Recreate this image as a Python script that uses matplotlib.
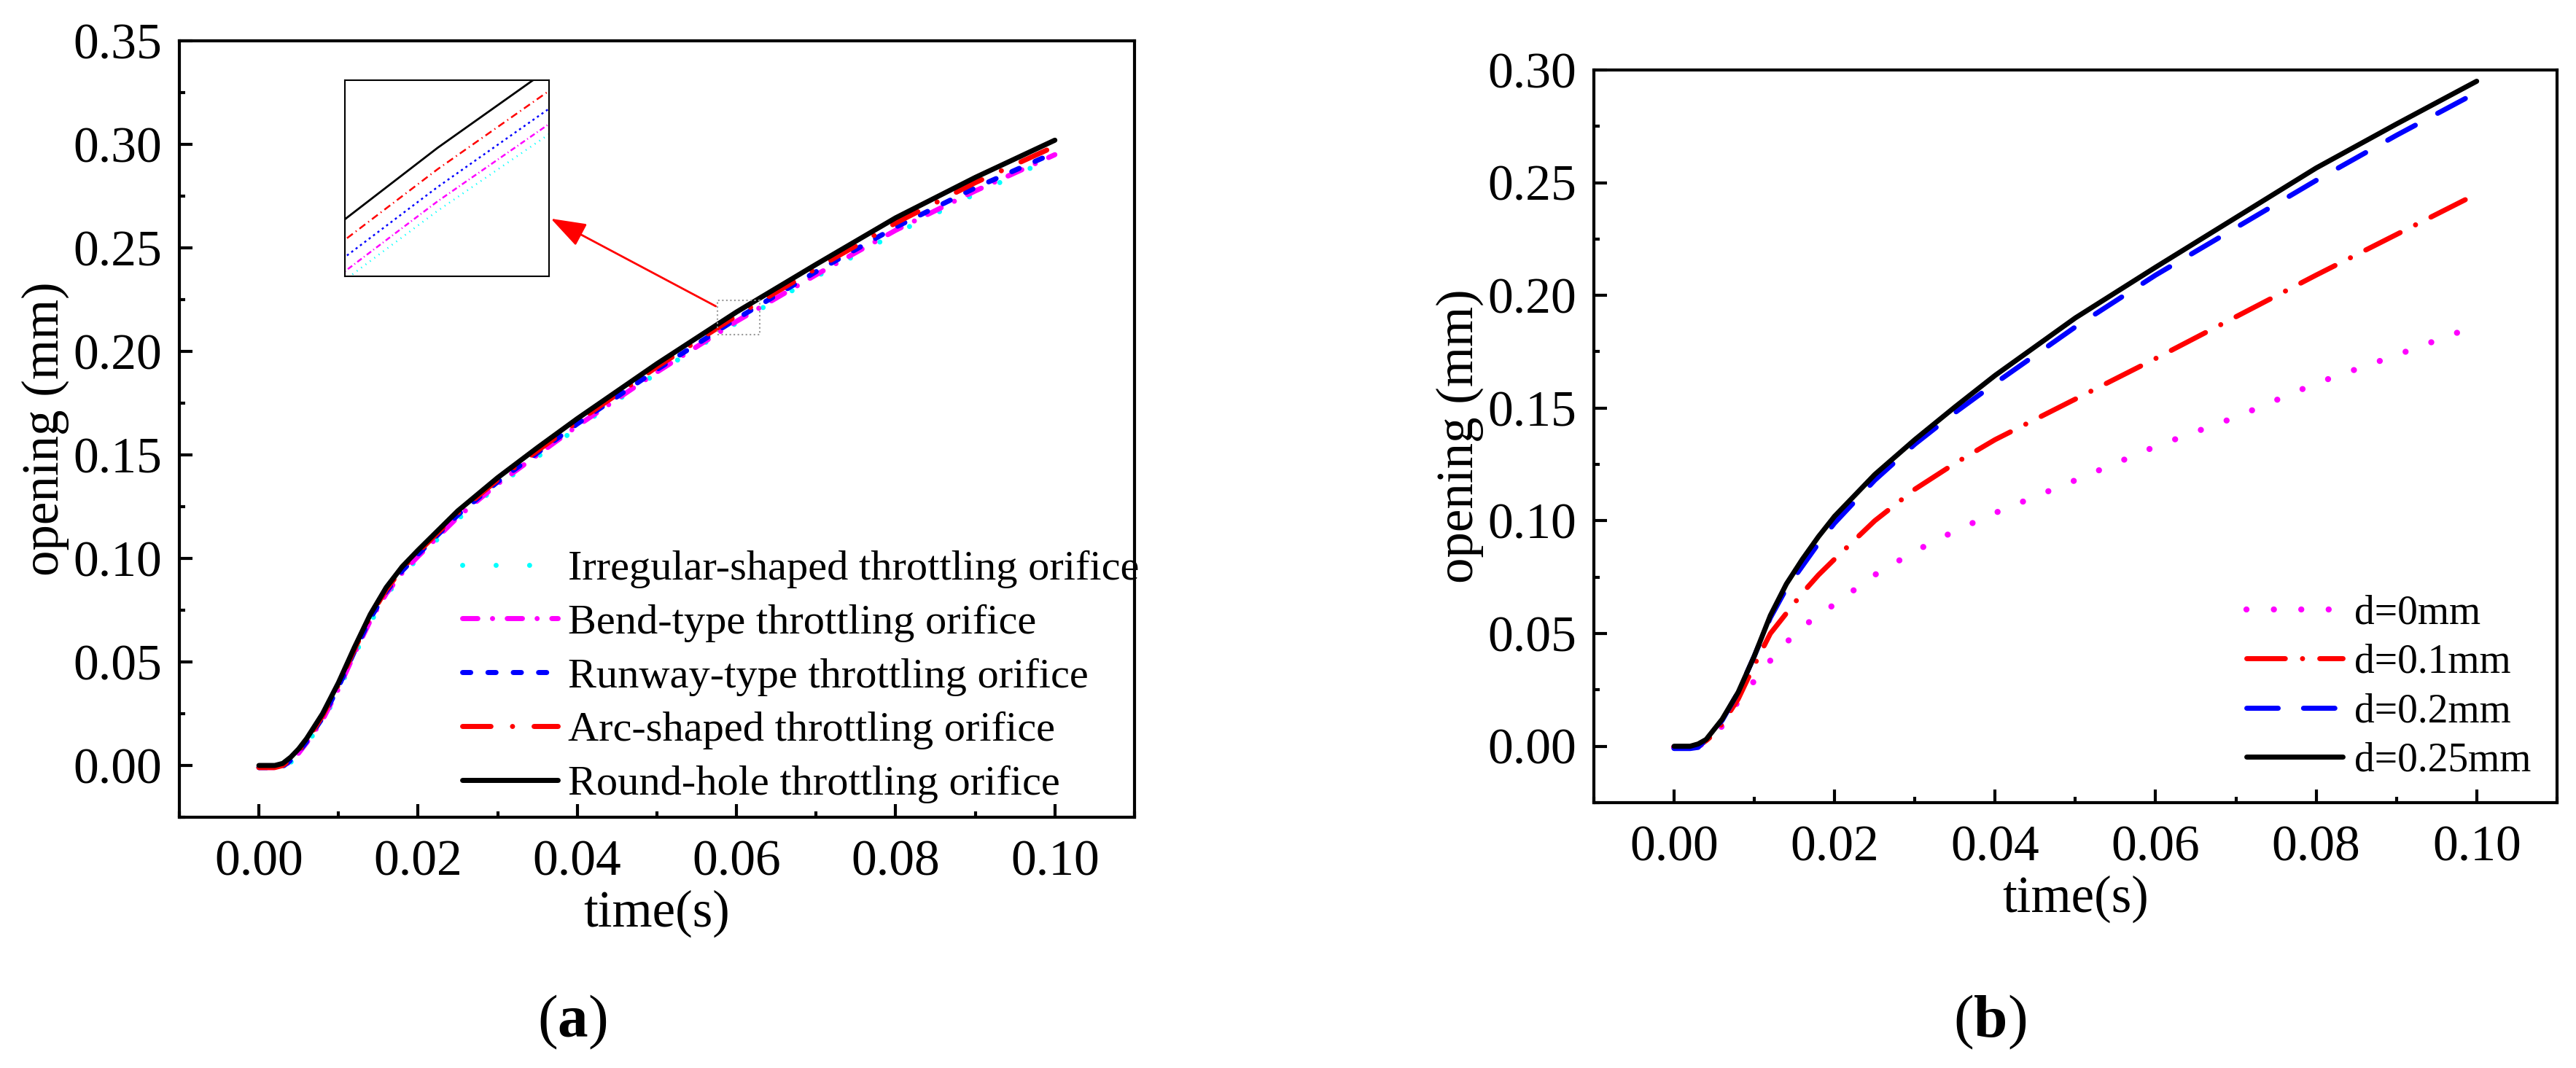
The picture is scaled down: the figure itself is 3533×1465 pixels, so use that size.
import numpy as np
import matplotlib
matplotlib.use('Agg')
import matplotlib.pyplot as plt
from matplotlib.ticker import MultipleLocator, FormatStrFormatter
from matplotlib.patches import Rectangle

plt.rcParams['font.family'] = 'Liberation Serif'
plt.rcParams['mathtext.fontset'] = 'custom'
plt.rcParams['mathtext.rm'] = 'Liberation Serif'
plt.rcParams['mathtext.bf'] = 'Liberation Serif:bold'

# ---- panel (a): orifice shapes ----
time_a = [0, 0.002, 0.003, 0.004, 0.005, 0.006, 0.008, 0.010, 0.012, 0.014, 0.016, 0.018,
          0.020, 0.025, 0.030, 0.035, 0.040, 0.050, 0.060, 0.070, 0.080, 0.090, 0.100]
irregular = [-0.001, -0.001, -0.0005, 0.0015, 0.0055, 0.0105, 0.021, 0.036, 0.053, 0.069, 0.082, 0.092,
             0.100, 0.119, 0.135, 0.149, 0.163, 0.1895, 0.2137, 0.236, 0.257, 0.276, 0.294]
bend = [-0.001, -0.001, -0.0005, 0.002, 0.006, 0.011, 0.022, 0.037, 0.054, 0.070, 0.083, 0.093,
        0.101, 0.120, 0.136, 0.150, 0.164, 0.190, 0.2145, 0.237, 0.2585, 0.2775, 0.295]
runway = [-0.001, -0.001, -0.0005, 0.0025, 0.0065, 0.0115, 0.023, 0.038, 0.055, 0.071, 0.084, 0.094,
          0.102, 0.121, 0.137, 0.151, 0.165, 0.1912, 0.2157, 0.2385, 0.260, 0.279, 0.296]
arc = [-0.001, -0.001, 0.0, 0.003, 0.007, 0.012, 0.024, 0.039, 0.056, 0.072, 0.085, 0.095,
       0.103, 0.122, 0.138, 0.152, 0.166, 0.1925, 0.2172, 0.240, 0.262, 0.2815, 0.299]
round_hole = [0, 0, 0.001, 0.004, 0.008, 0.013, 0.025, 0.040, 0.057, 0.073, 0.086, 0.096,
              0.104, 0.123, 0.139, 0.1535, 0.1675, 0.194, 0.219, 0.242, 0.2645, 0.284, 0.302]
labels_a = ['Irregular-shaped throttling orifice', 'Bend-type throttling orifice',
            'Runway-type throttling orifice', 'Arc-shaped throttling orifice',
            'Round-hole throttling orifice']

# ---- panel (b): groove depth d ----
time_b = [0, 0.002, 0.003, 0.004, 0.005, 0.006, 0.008, 0.010, 0.012, 0.014, 0.016, 0.018,
          0.020, 0.025, 0.030, 0.035, 0.040, 0.050, 0.060, 0.070, 0.080, 0.090, 0.100]
time_d0 = [0, 0.002, 0.003, 0.004, 0.005, 0.006, 0.008, 0.010, 0.012, 0.014, 0.016, 0.018,
           0.020, 0.025, 0.030, 0.035, 0.040, 0.050, 0.060, 0.070, 0.080, 0.090, 0.098]
d0 = [-0.0005, -0.0005, 0.0, 0.002, 0.005, 0.009, 0.020, 0.029, 0.038, 0.046, 0.053, 0.058,
      0.063, 0.076, 0.0865, 0.0955, 0.1035, 0.118, 0.133, 0.146, 0.161, 0.1735, 0.184]
d01 = [-0.0005, -0.0005, 0.0, 0.0025, 0.0055, 0.010, 0.021, 0.036, 0.050, 0.059, 0.068, 0.076,
       0.083, 0.100, 0.114, 0.1255, 0.136, 0.154, 0.172, 0.1905, 0.209, 0.227, 0.245]
d02 = [-0.001, -0.001, -0.0005, 0.003, 0.007, 0.0115, 0.024, 0.040, 0.057, 0.070, 0.080, 0.090,
       0.099, 0.118, 0.134, 0.148, 0.161, 0.186, 0.209, 0.230, 0.251, 0.271, 0.290]
d025 = [0, 0, 0.001, 0.003, 0.0075, 0.012, 0.024, 0.040, 0.058, 0.072, 0.083, 0.093,
        0.102, 0.1205, 0.136, 0.1505, 0.1645, 0.190, 0.2125, 0.2345, 0.2565, 0.276, 0.295]
labels_b = ['d=0mm', 'd=0.1mm', 'd=0.2mm', 'd=0.25mm']

LW = 5


def style_axes(ax, ytop):
    ax.set_xlim(-0.01, 0.11)
    ax.set_ylim(-0.025, ytop)
    ax.xaxis.set_major_locator(MultipleLocator(0.02))
    ax.xaxis.set_minor_locator(MultipleLocator(0.01))
    ax.yaxis.set_major_locator(MultipleLocator(0.05))
    ax.yaxis.set_minor_locator(MultipleLocator(0.025))
    ax.xaxis.set_major_formatter(FormatStrFormatter('%.2f'))
    ax.yaxis.set_major_formatter(FormatStrFormatter('%.2f'))
    ax.tick_params(which='both', direction='in', width=3, labelsize=50)
    ax.tick_params(which='major', length=13)
    ax.tick_params(which='minor', length=6)
    ax.tick_params(axis='x', pad=22)
    ax.tick_params(axis='y', pad=17)
    for s in ax.spines.values():
        s.set_linewidth(3)
    ax.set_xlabel('time(s)', fontsize=51, labelpad=4)
    ax.set_ylabel('opening (mm)', fontsize=51, labelpad=4)


fig = plt.figure(figsize=(35.33, 14.65), dpi=100)

# (a)
ax1 = fig.add_axes([0.0696, 0.2348, 0.3708, 0.727])
ax1.plot(time_a, irregular, color='#00FFFF', lw=LW, dashes=(0.01, 6.6), dash_capstyle='round', label=labels_a[0])
ax1.plot(time_a, bend, color='#FF00FF', lw=LW, dashes=(3.0, 2.9, 0.01, 2.9), dash_capstyle='round', label=labels_a[1])
ax1.plot(time_a, runway, color='#0000FF', lw=LW, dashes=(1.6, 3.4), dash_capstyle='round', label=labels_a[2])
ax1.plot(time_a, arc, color='#FF0000', lw=LW, dashes=(5.6, 4.25, 0.01, 4.25), dash_capstyle='round', label=labels_a[3])
ax1.plot(time_a, round_hole, color='black', lw=LW, solid_capstyle='round', label=labels_a[4])
style_axes(ax1, 0.35)
ax1.legend(loc='center left', bbox_to_anchor=(0.296, 0.181), frameon=False, fontsize=42,
           handlelength=2.25, handletextpad=0.24, labelspacing=0.36, borderpad=0, borderaxespad=0)

# zoomed window
zx0, zx1, zy0, zy1 = 0.0576, 0.0629, 0.2082, 0.2247
ax1.add_patch(Rectangle((zx0, zy0), zx1 - zx0, zy1 - zy0, fill=False, ls=':', lw=1.5,
                        edgecolor='#999999', zorder=5))
ax1.annotate('', xy=(0.389, 0.771), xycoords='axes fraction',
             xytext=(0.0574, 0.2218), textcoords='data',
             arrowprops=dict(arrowstyle='-|>,head_length=0.4,head_width=0.14',
                             color='red', lw=2, mutation_scale=75, shrinkA=0, shrinkB=0))

axin = fig.add_axes([0.1339, 0.7413, 0.0793, 0.1836])
axin.plot(time_a, irregular, color='#00FFFF', lw=1.8, dashes=(0.5, 2.5))
axin.plot(time_a, bend, color='#FF00FF', lw=1.8, dashes=(3, 1.5, 0.5, 1.5))
axin.plot(time_a, runway, color='#0000FF', lw=1.8, dashes=(1.2, 1.8))
axin.plot(time_a, arc, color='#FF0000', lw=1.8, dashes=(4, 2, 0.6, 2))
axin.plot(time_a, round_hole, color='black', lw=2)
axin.set_xlim(zx0, zx1)
axin.set_ylim(zy0, zy1)
axin.set_xticks([])
axin.set_yticks([])
for s in axin.spines.values():
    s.set_linewidth(1.5)

# (b)
ax2 = fig.add_axes([0.6187, 0.2485, 0.3739, 0.686])
ax2.plot(time_d0, d0, color='#FF00FF', lw=6, dashes=(0.01, 4.5), dash_capstyle='round', label=labels_b[0])
ax2.plot(time_b, d01, color='#FF0000', lw=LW, dashes=(7.6, 3.4, 0.01, 3.4), dash_capstyle='round', label=labels_b[1])
ax2.plot(time_b, d02, color='#0000FF', lw=LW, dashes=(6.2, 5.0), dash_capstyle='round', label=labels_b[2])
ax2.plot(time_b, d025, color='black', lw=LW, solid_capstyle='round', label=labels_b[3])
style_axes(ax2, 0.30)
ax2.legend(loc='center left', bbox_to_anchor=(0.6775, 0.1577), frameon=False, fontsize=40,
           handlelength=2.37, handletextpad=0.3, labelspacing=0.28, borderpad=0, borderaxespad=0)

fig.text(0.2222, 0.043, r'($\mathbf{a}$)', fontsize=60, ha='center', va='center')
fig.text(0.7724, 0.043, r'($\mathbf{b}$)', fontsize=60, ha='center', va='center')

fig.savefig('out.png', dpi=100)
